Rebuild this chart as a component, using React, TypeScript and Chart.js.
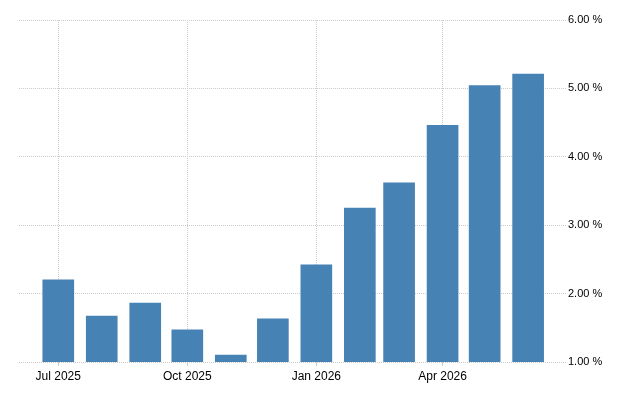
import React, { useEffect, useRef } from "react";
import { Chart, registerables } from "chart.js";

Chart.register(...registerables);

const months = [
  "2025-07", "2025-08", "2025-09", "2025-10", "2025-11", "2025-12",
  "2026-01", "2026-02", "2026-03", "2026-04", "2026-05", "2026-06",
];
const values = [2.2, 1.67, 1.86, 1.47, 1.1, 1.63, 2.42, 3.25, 3.62, 4.46, 5.04, 5.21];
const tickMonths = ["2025-07", "2025-10", "2026-01", "2026-04"];
const tickLabels = ["Jul 2025", "Oct 2025", "Jan 2026", "Apr 2026"];
const yTicks = [1, 2, 3, 4, 5, 6];

const base = Date.UTC(2025, 6, 1);
const dayOf = (m: string) => {
  const [y, mo] = m.split("-").map(Number);
  return Math.round((Date.UTC(y, mo - 1, 1) - base) / 86400000);
};

export default function App() {
  const ref = useRef<HTMLCanvasElement | null>(null);
  useEffect(() => {
    document.body.style.margin = "0";
    if (!ref.current) return;
    const tickDays = tickMonths.map(dayOf);
    const chart = new Chart(ref.current, {
      type: "bar",
      data: {
        datasets: [
          {
            data: months.map((m, i) => ({ x: dayOf(m), y: values[i] })),
            backgroundColor: "#4682B4",
            borderWidth: 0,
            barThickness: 31,
          },
        ],
      },
      options: {
        animation: false,
        responsive: false,
        devicePixelRatio: 1,
        layout: { padding: { left: 19, top: 20, right: 0, bottom: 0 } },
        plugins: { legend: { display: false }, tooltip: { enabled: false } },
        scales: {
          x: {
            type: "linear",
            offset: false,
            min: -28,
            max: 362,
            afterBuildTicks: (s: any) => {
              s.ticks = tickDays.map((v) => ({ value: v }));
            },
            afterFit: (s: any) => {
              s.height = 38;
            },
            ticks: {
              autoSkip: false,
              maxRotation: 0,
              padding: 3,
              color: "#000",
              font: { family: "Arial, 'Liberation Sans'", size: 12 },
              callback: (v: any) => {
                const i = tickDays.indexOf(Number(v));
                return i >= 0 ? tickLabels[i] : "";
              },
            },
            grid: {
              offset: false,
              color: "#cccccc",
              tickColor: "#cccccc",
              tickLength: 4,
              lineWidth: 1,
            },
            border: { display: false, dash: [1, 1] },
          },
          y: {
            position: "right",
            min: 1,
            max: 6,
            afterBuildTicks: (s: any) => {
              s.ticks = yTicks.map((v) => ({ value: v }));
            },
            afterFit: (s: any) => {
              s.width = 74;
            },
            ticks: {
              padding: 2,
              color: "#000",
              font: { family: "Arial, 'Liberation Sans'", size: 11 },
              callback: (v: any) => Number(v).toFixed(2) + " %",
            },
            grid: { color: "#cccccc", drawTicks: false, lineWidth: 1 },
            border: { display: false, dash: [1, 1] },
          },
        },
      } as any,
    });
    return () => chart.destroy();
  }, []);
  return (
    <div style={{ width: 640, height: 400 }}>
      <canvas ref={ref} width={640} height={400} style={{ display: "block" }} />
    </div>
  );
}
